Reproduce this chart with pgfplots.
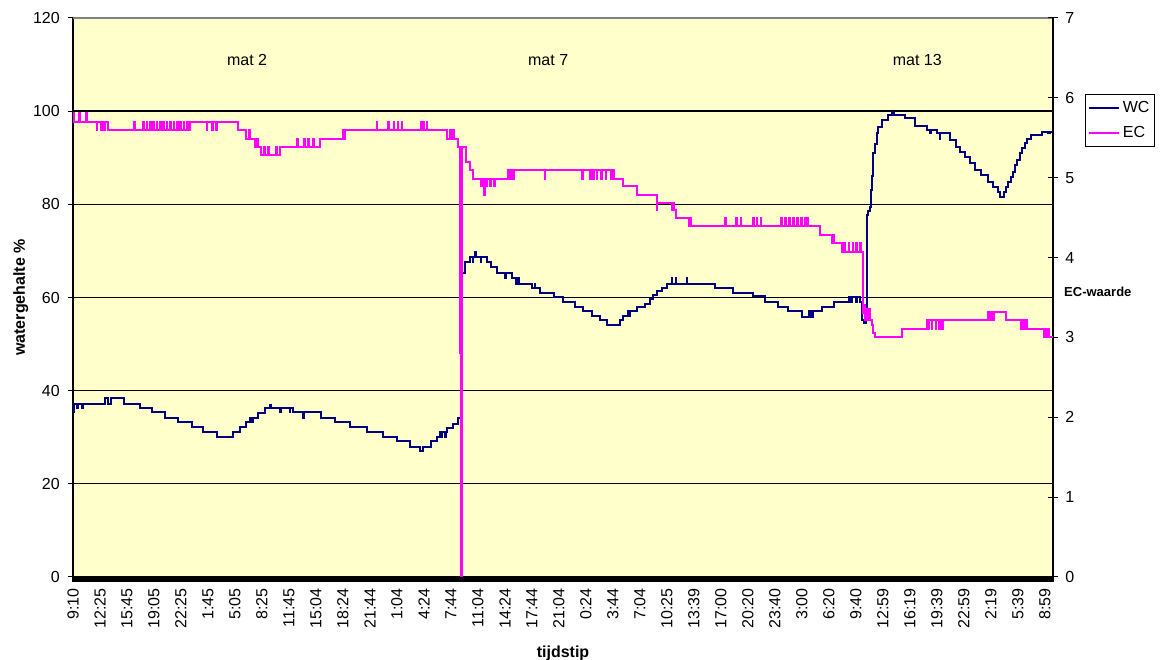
\documentclass[border=0pt]{standalone}
\usepackage{fontspec}
\setmainfont{Liberation Sans}
\usepackage{pgfplots}
\pgfplotsset{compat=1.18}

\definecolor{wcnavy}{RGB}{0,0,128}
\definecolor{ecmagenta}{RGB}{255,0,255}
\definecolor{plotbg}{RGB}{255,255,204}
\definecolor{frametop}{RGB}{128,128,128}

% Water content (%) per 5-minute sample
\pgfplotstableread{
idx wc
0 35.5
1 37.1
6 36.2
7 37.1
14 36.2
15 37.1
47 38.4
52 37.1
57 38.4
75 37.1
99 36.2
117 35.4
136 34.1
156 33.2
176 32.3
193 31.1
213 30.0
237 31.1
247 32.3
257 33.2
262 34.1
263 33.2
266 34.1
274 35.1
284 36.2
292 36.9
293 36.2
307 35.4
308 36.2
321 35.4
322 36.2
326 35.4
341 34.1
342 35.4
368 34.1
388 33.2
410 32.3
435 31.1
460 30.0
480 29.3
499 28.0
514 27.1
519 28.0
531 29.3
539 30.0
544 31.1
546 30.0
547 31.1
551 30.0
552 31.1
554 31.9
563 32.9
571 34.1
575 65.2
581 67.7
588 68.8
592 67.7
593 68.8
596 69.8
597 68.8
604 67.7
605 68.8
613 67.7
620 66.6
628 65.2
640 64.1
641 65.2
650 64.1
657 63.0
660 64.1
661 63.0
680 62.0
684 63.0
685 62.0
692 61.0
712 60.2
726 59.0
744 58.0
756 57.2
769 56.0
781 55.2
791 54.1
810 55.2
815 56.0
822 57.0
823 56.0
825 57.0
835 57.9
847 58.6
855 59.6
860 60.5
865 61.3
872 62.0
880 63.0
887 64.1
888 63.0
893 64.1
894 63.0
909 64.1
910 63.0
951 62.0
978 61.0
1008 60.3
1025 59.1
1045 58.0
1060 57.2
1080 55.9
1090 57.2
1091 55.9
1094 57.2
1095 55.9
1097 57.2
1109 58.0
1127 59.1
1149 60.2
1153 59.1
1154 60.2
1160 59.1
1161 60.2
1166 59.1
1169 55.2
1172 54.5
1175 55.5
1176 77.7
1178 78.5
1181 79.5
1182 81.0
1183 83.1
1184 86.0
1185 88.5
1186 91.0
1188 93.0
1191 95.3
1193 96.7
1198 98.1
1208 99.2
1213 99.9
1216 99.2
1233 98.5
1248 96.8
1265 96.0
1270 95.3
1271 96.0
1280 95.3
1284 94.0
1285 95.3
1299 93.8
1309 92.4
1314 91.3
1321 90.2
1329 88.8
1336 87.4
1346 86.3
1356 84.9
1363 83.8
1371 82.7
1373 81.6
1380 82.7
1383 83.8
1386 84.9
1390 85.9
1392 87.0
1395 88.4
1398 89.6
1403 91.0
1406 92.0
1410 93.1
1414 94.0
1420 94.9
1435 95.6
1445 95.3
1448 95.6
1452 95.6
}\wcdata

% EC value per 5-minute sample
\pgfplotstableread{
idx ec
0 5.81
1 5.70
9 5.81
10 5.70
20 5.81
21 5.70
35 5.60
36 5.70
42 5.60
43 5.70
46 5.60
47 5.70
52 5.60
91 5.70
92 5.60
104 5.70
105 5.60
109 5.70
110 5.60
114 5.70
115 5.60
119 5.70
120 5.60
124 5.70
125 5.60
129 5.70
130 5.60
134 5.70
135 5.60
139 5.70
140 5.60
144 5.70
145 5.60
149 5.70
150 5.60
154 5.70
155 5.60
159 5.70
160 5.60
164 5.70
165 5.60
169 5.70
170 5.60
174 5.70
198 5.60
199 5.70
206 5.60
207 5.70
212 5.60
213 5.70
245 5.60
257 5.49
261 5.60
262 5.49
270 5.39
273 5.49
274 5.39
279 5.28
283 5.39
284 5.28
289 5.39
290 5.28
301 5.39
302 5.28
307 5.39
332 5.49
333 5.39
342 5.49
343 5.39
348 5.49
349 5.39
356 5.49
357 5.39
366 5.49
400 5.60
402 5.49
403 5.60
450 5.70
451 5.60
467 5.70
468 5.60
475 5.70
476 5.60
481 5.70
482 5.60
487 5.70
488 5.60
515 5.70
516 5.60
519 5.70
520 5.60
524 5.70
525 5.60
554 5.49
559 5.60
560 5.49
563 5.60
564 5.49
571 5.39
573 2.80
574 5.30
575 0.00
577 5.39
583 5.20
588 5.10
593 4.99
605 4.89
606 4.99
609 4.78
610 4.99
613 4.89
614 4.99
618 4.89
619 4.99
624 4.89
625 4.99
645 5.10
646 4.99
649 5.10
650 4.99
654 5.10
699 4.99
700 5.10
754 4.99
755 5.10
766 4.99
767 5.10
771 4.99
772 5.10
776 4.99
777 5.10
783 4.99
784 5.10
789 4.99
790 5.10
797 4.99
798 5.10
801 4.99
815 4.89
835 4.78
865 4.60
866 4.68
887 4.60
888 4.68
891 4.60
893 4.49
912 4.39
914 4.49
915 4.39
966 4.49
967 4.39
983 4.49
984 4.39
989 4.49
990 4.39
1008 4.49
1009 4.39
1013 4.49
1014 4.39
1019 4.49
1020 4.39
1049 4.49
1050 4.39
1055 4.49
1056 4.39
1061 4.49
1062 4.39
1067 4.49
1068 4.39
1073 4.49
1074 4.39
1079 4.49
1080 4.39
1084 4.49
1085 4.39
1088 4.49
1089 4.39
1107 4.28
1125 4.18
1127 4.28
1128 4.18
1139 4.07
1143 4.18
1144 4.07
1149 4.18
1150 4.07
1155 4.18
1156 4.07
1160 4.18
1161 4.07
1166 4.18
1167 4.07
1170 3.30
1172 3.40
1173 3.22
1175 3.35
1177 3.22
1179 3.35
1181 3.22
1184 3.15
1186 3.05
1188 3.01
1228 3.11
1265 3.22
1268 3.11
1269 3.22
1272 3.11
1273 3.22
1278 3.11
1279 3.22
1283 3.11
1284 3.22
1288 3.11
1289 3.22
1356 3.32
1357 3.22
1360 3.32
1361 3.22
1364 3.32
1383 3.22
1405 3.11
1406 3.22
1409 3.11
1410 3.22
1413 3.11
1438 3.01
1439 3.11
1442 3.01
1443 3.11
1446 3.01
1452 3.01
}\ecdata

\begin{document}
\begin{tikzpicture}
\useasboundingbox (-54.75pt,-62.25pt) rectangle (818.25pt,432.75pt);
\pgfplotsset{
  every axis/.append style={
    scale only axis,
    width=735pt, height=419.25pt,
    xmin=0, xmax=1452,
    font=\fontsize{12}{14}\selectfont,
    /pgf/number format/assume math mode=true,
    tick style={black, line width=0.75pt},
  },
}
% left axis: water content
\begin{axis}[
  ymin=0, ymax=120,
  axis x line*=bottom, axis y line*=left,
  axis line style={black, line width=1.5pt},
  axis background/.style={fill=plotbg},
  ytick={0,20,...,120},
  xtick={0,40,...,1440},
  xticklabels={9:10,12:25,15:45,19:05,22:25,1:45,5:05,8:25,11:45,15:04,18:24,21:44,1:04,4:24,7:44,11:04,14:24,17:44,21:04,0:24,3:44,7:04,10:25,13:39,17:00,20:20,23:40,3:00,6:20,9:40,12:59,16:19,19:39,22:59,2:19,5:39,8:59},
  minor xtick={0,1,...,1452},
  tick align=outside,
  major tick length=3.75pt, minor tick length=3.75pt,
  ymajorgrids, grid style={black, line width=1pt},
  xticklabel style={yshift=-4.5pt, rotate=90, anchor=east, inner sep=0pt},
  yticklabel style={xshift=-6pt, anchor=east, inner sep=0pt},
  ylabel={watergehalte \%},
  ylabel style={at={(axis description cs:0,0.5)}, anchor=base, yshift=36pt, font=\fontsize{12}{14}\selectfont\bfseries},
  xlabel={tijdstip},
  xlabel style={at={(axis description cs:0.5,0)}, anchor=base, yshift=-60pt, font=\fontsize{12}{14}\selectfont\bfseries},
]
\addplot[const plot, wcnavy, line width=1.5pt] table[x=idx, y=wc] {\wcdata};
\draw[frametop, line width=1.25pt] (rel axis cs:0,1) -- (rel axis cs:1,1);
\node[anchor=base] at (axis cs:258,109.8) {mat 2};
\node[anchor=base] at (axis cs:704,109.8) {mat 7};
\node[anchor=base] at (axis cs:1251,109.8) {mat 13};
\end{axis}
% right axis: EC value
\begin{axis}[
  ymin=0, ymax=7,
  ytick={0,...,7},
  axis y line*=right, axis x line=none,
  xtick=\empty,
  axis line style={black, line width=1.5pt},
  tick align=center, major tick length=7.5pt,
  yticklabel style={xshift=5.25pt, anchor=west, inner sep=0pt},
  ylabel={EC-waarde},
  ylabel style={at={(rel axis cs:1.0112,0.51)}, rotate=-90, anchor=west, inner sep=0pt, font=\fontsize{9.75}{11}\selectfont\bfseries},
  legend style={at={(rel axis cs:1.0327,0.864)}, anchor=north west, draw=black, line width=0.75pt, inner xsep=2pt, inner ysep=3pt, row sep=5pt, font=\fontsize{12}{14}\selectfont},
  legend cell align=left,
  legend image code/.code={\draw[#1] (0pt,0pt) -- (22.5pt,0pt);},
]
\addlegendimage{wcnavy, line width=1.5pt}
\addlegendentry{WC}
\addplot[const plot, ecmagenta, line width=1.5pt] table[x=idx, y=ec] {\ecdata};
\addlegendentry{EC}
\end{axis}
\end{tikzpicture}
\end{document}
